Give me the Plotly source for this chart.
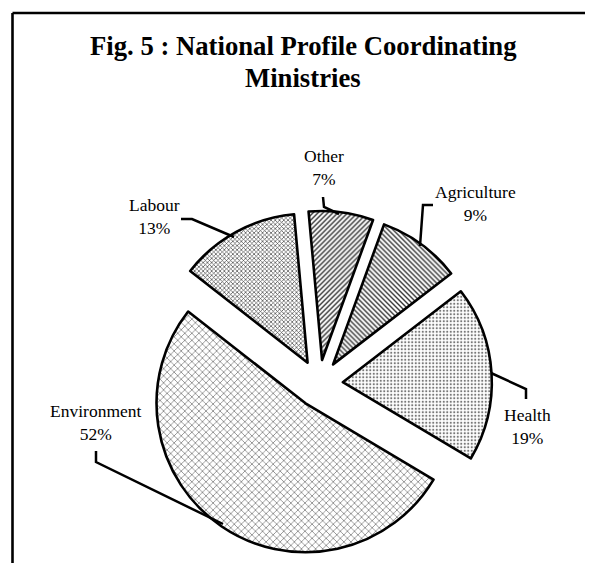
import plotly.graph_objects as go

# ---- data ----
labels = ["Agriculture", "Health", "Environment", "Labour", "Other"]
values = [9, 19, 52, 13, 7]
title_lines = ["Fig. 5 : National Profile Coordinating", "Ministries"]

# page body has an 8px margin: figure occupies (8..593, 8..563) of the window
OFF = 8
W, H = 593 - OFF, 563 - OFF
FONT = "Liberation Serif, Times New Roman, serif"


def px(x, y):
    """window pixel -> paper coords"""
    return (x - OFF) / W, 1 - (y - OFF) / H


# pie geometry (layout)
cx, cy, r, pull = 319, 383.6, 149, 0.16
half = r * (1 + pull)
x0, y0 = px(cx - half, cy + half)
x1, y1 = px(cx + half, cy - half)

pie = go.Pie(
    labels=labels,
    values=values,
    sort=False,
    direction="clockwise",
    rotation=20,
    pull=pull,
    textinfo="none",
    hoverinfo="label+percent",
    showlegend=False,
    domain=dict(x=[x0, x1], y=[y0, y1]),
    marker=dict(
        colors=["white"] * 5,
        line=dict(color="black", width=2.6),
        pattern=dict(
            shape=["\\", ".", "x", "x", "/"],
            size=[3.5, 3.5, 5, 3, 3.5],
            solidity=[0.4, 0.3, 0.2, 0.4, 0.4],
            fgcolor=["#333", "#777", "#444", "#444", "#333"],
            bgcolor=["white"] * 5,
        ),
    ),
)

fig = go.Figure(pie)

# label positions (layout) and leader lines, in window pixels
label_pos = {
    "Agriculture": (475, 204),
    "Health": (527, 426),
    "Environment": (96, 422),
    "Labour": (154, 217),
    "Other": (324, 168),
}
leaders = {
    "Agriculture": [(433, 205), (423, 205), (420, 246)],
    "Health": [(491, 373), (526, 389), (526, 399)],
    "Environment": [(96, 451), (96, 462), (223, 524)],
    "Labour": [(181, 219), (192, 219), (234, 237)],
    "Other": [(323, 197), (324, 207), (339, 214)],
}

annotations = []
for lab, val in zip(labels, values):
    ax, ay = px(*label_pos[lab])
    annotations.append(dict(
        x=ax, y=ay, xref="paper", yref="paper",
        text=f"{lab}<br>{val}%", showarrow=False,
        xanchor="center", yanchor="middle", align="center",
        font=dict(family=FONT, size=17.5, color="black"),
    ))

# title, one annotation per line
for line, yc in zip(title_lines, [46, 77.5]):
    ax, ay = px(303, yc)
    annotations.append(dict(
        x=ax, y=ay, xref="paper", yref="paper",
        text=f"<b>{line}</b>", showarrow=False,
        xanchor="center", yanchor="middle",
        font=dict(family=FONT, size=26.7, color="black"),
    ))

shapes = []
for lab in labels:
    path = ""
    for i, (x, y) in enumerate(leaders[lab]):
        a, b = px(x, y)
        path += ("M" if i == 0 else "L") + f"{a:.5f},{b:.5f} "
    shapes.append(dict(type="path", xref="paper", yref="paper", path=path.strip(),
                       line=dict(color="black", width=2.5)))

# chart frame (top and left edges visible)
fx, fy = px(12.5, 13)
shapes.append(dict(type="line", xref="paper", yref="paper",
                   x0=fx, x1=1.02, y0=fy, y1=fy,
                   line=dict(color="black", width=2.6)))
shapes.append(dict(type="line", xref="paper", yref="paper",
                   x0=fx, x1=fx, y0=fy, y1=-0.02,
                   line=dict(color="black", width=2.6)))

fig.update_layout(
    width=W, height=H,
    margin=dict(l=0, r=0, t=0, b=0),
    paper_bgcolor="white", plot_bgcolor="white",
    annotations=annotations,
    shapes=shapes,
)

fig.write_html("out.html")
